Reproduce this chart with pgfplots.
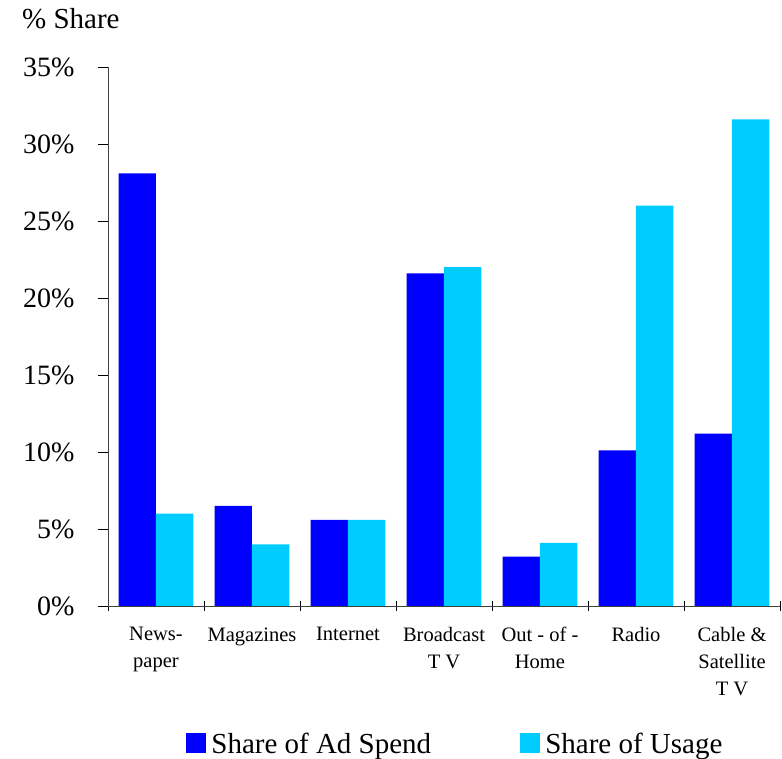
\documentclass[border=0pt]{standalone}
\usepackage{fontspec}
\setmainfont{Liberation Serif}
\usepackage{pgfplots}
\pgfplotsset{compat=1.18}
\definecolor{adspend}{RGB}{0,0,255}
\definecolor{usage}{RGB}{0,204,255}
\begin{document}
\begin{tikzpicture}
\begin{axis}[
  at={(0pt,0pt)}, anchor=south west,
  scale only axis, width=672pt, height=539pt,
  xmin=-0.5, xmax=6.5, ymin=0, ymax=35,
  axis x line*=bottom, axis y line*=left,
  axis line style={black!75, line width=0.9pt},
  ybar=0pt, bar width=0.39,
  tick align=outside, major tick length=10pt,
  tick style={black, line width=0.8pt},
  ytick={0,5,...,35},
  yticklabels={0\%,5\%,10\%,15\%,20\%,25\%,30\%,35\%},
  yticklabel style={font=\fontsize{28}{34}\selectfont, xshift=-20pt},
  xtick={-0.5,0.5,...,6.5}, xticklabels={},
  x tick style={yshift=5pt},
  extra x ticks={0,1,2,3,4,5,6},
  extra x tick labels={{News-\\paper},{Magazines},{Internet},{Broadcast\\T V},{Out - of -\\Home},{Radio},{Cable \&\\Satellite\\T V}},
  extra x tick style={major tick length=0pt, tick style={draw=none}},
  xticklabel style={align=center, font=\fontsize{20.5}{27}\selectfont, yshift=-18pt},
  legend columns=2,
  legend style={draw=none, at={(0.517,-0.256)}, anchor=center,
    font=\fontsize{29}{34}\selectfont,
    /tikz/every even column/.append style={column sep=87pt}},
  legend image code/.code={\fill[#1] (0pt,-9pt) rectangle (20pt,11pt); \path (23pt,0pt);},
]
\addplot[fill=adspend, draw=none] coordinates {
  (0,28.1) (1,6.5) (2,5.6) (3,21.6) (4,3.2) (5,10.1) (6,11.2)};
\addlegendentry{Share of Ad Spend}
\addplot[fill=usage, draw=none] coordinates {
  (0,6.0) (1,4.0) (2,5.6) (3,22.0) (4,4.1) (5,26.0) (6,31.6)};
\addlegendentry{Share of Usage}
\end{axis}
\node[anchor=base west, font=\fontsize{29}{34}\selectfont, inner sep=0pt] at (-86pt,577pt) {\% Share};
\pgfresetboundingbox
\path[use as bounding box] (-108pt,-153pt) rectangle (674pt,606pt);
\end{tikzpicture}
\end{document}
